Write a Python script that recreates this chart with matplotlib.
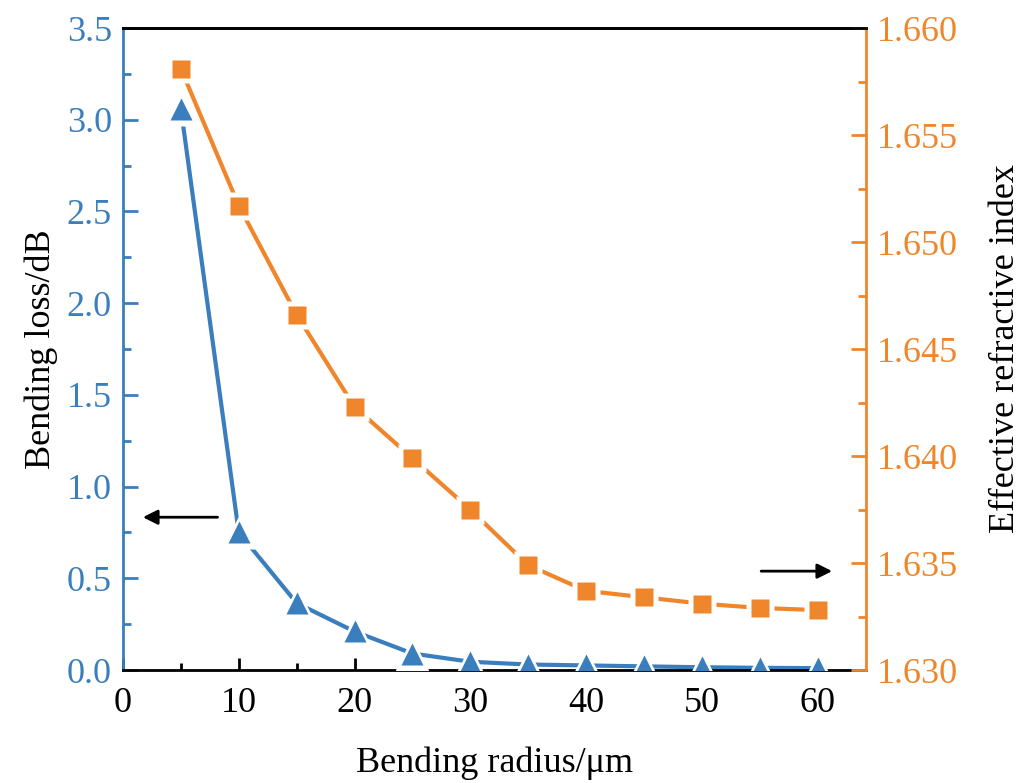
import numpy as np
import matplotlib.pyplot as plt
from matplotlib.ticker import MultipleLocator

plt.rcParams['font.family'] = ['Liberation Serif', 'DejaVu Serif']

radius = [5, 10, 15, 20, 25, 30, 35, 40, 45, 50, 55, 60]
loss = [3.06, 0.75, 0.365, 0.21, 0.09, 0.045, 0.03, 0.025, 0.02, 0.015, 0.012, 0.01]
n_eff = [1.6581, 1.6517, 1.6466, 1.6423, 1.6399, 1.6375, 1.6349, 1.6337, 1.6334, 1.6331, 1.6329, 1.6328]

blue = '#3a7ebd'
orange = '#f0862b'
fs = 26

fig = plt.figure(figsize=(10.25, 7.83), dpi=100)
ax = fig.add_axes([0.12, 0.1443, 0.725, 0.8199])
ax2 = ax.twinx()

# lines with a small gap around each marker (white halo markers)
ax.plot(radius, loss, '-', color=blue, lw=3, zorder=2)
ax.plot(radius, loss, '^', color='white', ms=25, mec='none', zorder=3)
ax.plot(radius, loss, '^', color=blue, ms=16.5, mec='none', zorder=4)

ax2.plot(radius, n_eff, '-', color=orange, lw=3, zorder=2)
ax2.plot(radius, n_eff, 's', color='white', ms=20, mec='none', zorder=3)
ax2.plot(radius, n_eff, 's', color=orange, ms=13, mec='none', zorder=4)

ax.set_xlim(0, 64.2)
ax.set_ylim(0, 3.5)
ax2.set_ylim(1.630, 1.660)

ax.xaxis.set_major_locator(MultipleLocator(10))
ax.xaxis.set_minor_locator(MultipleLocator(5))
ax.yaxis.set_major_locator(MultipleLocator(0.5))
ax.yaxis.set_minor_locator(MultipleLocator(0.25))
ax2.yaxis.set_major_locator(MultipleLocator(0.005))
ax2.yaxis.set_minor_locator(MultipleLocator(0.0025))
ax2.yaxis.set_major_formatter(plt.FormatStrFormatter('%.3f'))
ax.yaxis.set_major_formatter(plt.FormatStrFormatter('%.1f'))

for a in (ax, ax2):
    for s in a.spines.values():
        s.set_linewidth(2)
ax.spines['left'].set_color(blue)
ax2.spines['left'].set_visible(False)
ax.spines['right'].set_visible(False)
ax2.spines['right'].set_color(orange)
ax2.spines['top'].set_color('black')
ax2.spines['bottom'].set_visible(False)

ax.tick_params(axis='x', which='both', direction='in', colors='black', labelsize=fs, pad=12, width=2)
ax.tick_params(axis='x', which='major', length=9)
ax.tick_params(axis='x', which='minor', length=5)
ax.tick_params(axis='y', which='both', direction='in', colors=blue, labelsize=fs, pad=8, width=2)
ax.tick_params(axis='y', which='major', length=11)
ax.tick_params(axis='y', which='minor', length=6)
ax2.tick_params(axis='y', which='both', direction='in', colors=orange, labelsize=fs, pad=8, width=2)
ax2.tick_params(axis='y', which='major', length=11)
ax2.tick_params(axis='y', which='minor', length=6)

ax.set_xlabel('Bending radius/μm', fontsize=fs, labelpad=19)
ax.set_ylabel('Bending loss/dB', fontsize=fs, labelpad=6)
ax2.set_ylabel('Effective refractive index', fontsize=fs, labelpad=22)

ax.annotate('', xy=(0.023, 0.238), xytext=(0.131, 0.238), xycoords='axes fraction',
            arrowprops=dict(arrowstyle='-|>', color='black', lw=2, mutation_scale=22))
ax.annotate('', xy=(0.958, 0.154), xytext=(0.855, 0.154), xycoords='axes fraction',
            arrowprops=dict(arrowstyle='-|>', color='black', lw=2, mutation_scale=22))

fig.savefig('out.png', dpi=100)
